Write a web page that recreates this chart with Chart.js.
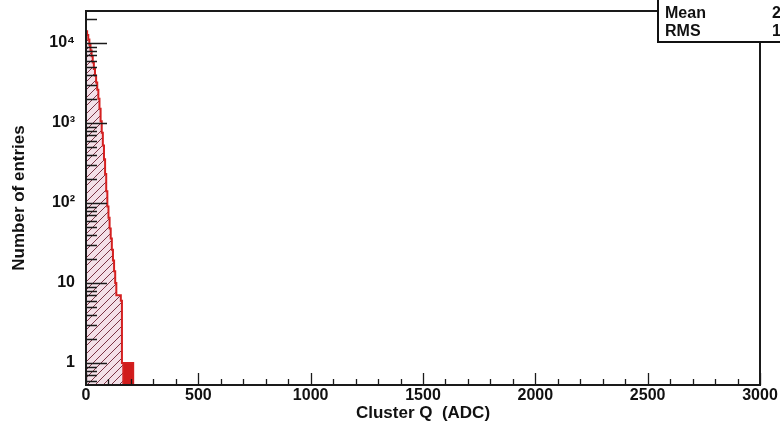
<!DOCTYPE html>
<html>
<head>
<meta charset="utf-8">
<script src="https://cdn.jsdelivr.net/npm/chart.js@4/dist/chart.umd.min.js"></script>
<style>
  html, body { margin: 0; padding: 0; background: #ffffff; }
  #wrap { width: 780px; height: 425px; position: relative; }
</style>
</head>
<body>
<div id="wrap"><canvas id="c" width="780" height="425"></canvas></div>
<script>
// ---- data ----
const binWidth = 5; // ADC
const binStarts = [0, 5, 10, 15, 20, 25, 30, 35, 40, 45, 50, 55, 60, 65, 70, 75, 80, 85, 90, 95,
                   100, 105, 110, 115, 120, 125, 130, 135, 140, 145, 150, 155, 160, 165, 170, 175,
                   180, 185, 190, 195, 200, 205];
const counts = [13500, 14000, 12500, 11000, 9500, 8000, 6800, 5700, 4700, 3900, 3200, 2600, 2000, 1500,
                1050, 750, 520, 350, 230, 140, 90, 65, 48, 36, 26, 19, 14, 10, 7, 7, 7, 7, 6,
                1, 1, 1, 1, 1, 1, 1, 1, 1];
const tailFrom = 165; // ADC where the sparse (single-entry) tail starts
const xRange = [0, 3000];
const yRange = [0.53, 25000];
const xTickValues = [0, 500, 1000, 1500, 2000, 2500, 3000];
const yTickValues = [1, 10, 100, 1000, 10000];
const yTickLabels = ['1', '10', '10\u00B2', '10\u00B3', '10\u2074'];
const statsLabels = ['Entries', 'Mean', 'RMS'];
const statsValues = ['1.5e+05', '25.47', '19.82'];
const xTitle = 'Cluster Q  (ADC)';
const yTitle = 'Number of entries';

const FONT = '"Liberation Sans", Arial, Helvetica, sans-serif';

function histPoints(starts, vals, w, floor) {
  const pts = [{x: starts[0], y: floor}];
  for (let i = 0; i < starts.length; i++) pts.push({x: starts[i], y: vals[i]});
  const end = starts[starts.length - 1] + w;
  pts.push({x: end, y: vals[vals.length - 1]});
  pts.push({x: end, y: floor});
  return pts;
}

const tailIdx = binStarts.findIndex(v => v >= tailFrom);
const mainPts = histPoints(binStarts, counts, binWidth, yRange[0]);
const tailPts = histPoints(binStarts.slice(tailIdx), counts.slice(tailIdx), binWidth, yRange[0]);

// hatch pattern
function makeHatch() {
  const s = 8;
  const cv = document.createElement('canvas');
  cv.width = s; cv.height = s;
  const g = cv.getContext('2d');
  g.fillStyle = '#f3e0e8';
  g.fillRect(0, 0, s, s);
  g.strokeStyle = '#7a3444';
  g.lineWidth = 1;
  g.beginPath();
  g.moveTo(0, s); g.lineTo(s, 0);
  g.moveTo(-s / 2, s / 2); g.lineTo(s / 2, -s / 2);
  g.moveTo(s / 2, s * 1.5); g.lineTo(s * 1.5, s / 2);
  g.stroke();
  return g.createPattern(cv, 'repeat');
}
const hatch = makeHatch();

const framePlugin = {
  id: 'rootFrame',
  beforeDraw(chart) {
    const ctx = chart.ctx;
    ctx.save();
    ctx.fillStyle = '#ffffff';
    ctx.fillRect(0, 0, chart.width, chart.height);
    ctx.restore();
  },
  afterDatasetsDraw(chart) {
    const {ctx, chartArea: a, scales: {x, y}} = chart;
    ctx.save();
    ctx.strokeStyle = '#1a1a1a';
    // y ticks (major + log minor), pointing inward
    ctx.lineWidth = 1.3;
    ctx.beginPath();
    for (let d = -1; d <= 5; d++) {
      for (let k = 1; k <= 9; k++) {
        const v = k * Math.pow(10, d);
        if (v < y.min || v > y.max) continue;
        const py = Math.round(y.getPixelForValue(v)) + 0.5;
        const len = k === 1 ? 21 : 11;
        ctx.moveTo(a.left, py); ctx.lineTo(a.left + len, py);
      }
    }
    // x ticks: major every 500, minor every 100
    for (let v = xRange[0]; v <= xRange[1]; v += 100) {
      const px = Math.round(x.getPixelForValue(v)) + 0.5;
      const len = v % 500 === 0 ? 12 : 6;
      ctx.moveTo(px, a.bottom); ctx.lineTo(px, a.bottom - len);
    }
    ctx.stroke();
    // frame
    ctx.lineWidth = 2;
    ctx.strokeRect(a.left, a.top, a.right - a.left, a.bottom - a.top);
    // stats box
    const bx = 658, by = -12, bw = 200, bh = 54;
    ctx.fillStyle = '#ffffff';
    ctx.fillRect(bx, by, bw, bh);
    ctx.lineWidth = 2;
    ctx.strokeStyle = '#111111';
    ctx.strokeRect(bx, by, bw, bh);
    ctx.fillStyle = '#111111';
    ctx.font = 'bold 16px ' + FONT;
    ctx.textBaseline = 'middle';
    const rowsY = [-4, 14, 32];
    for (let i = 0; i < statsLabels.length; i++) {
      ctx.textAlign = 'left';
      ctx.fillText(statsLabels[i], 665, rowsY[i]);
      ctx.fillText(statsValues[i], 772, rowsY[i]);
    }
    ctx.restore();
  }
};

new Chart(document.getElementById('c'), {
  type: 'line',
  data: {
    datasets: [
      {
        label: 'Cluster Q',
        data: mainPts,
        stepped: 'after',
        borderColor: '#d42020',
        borderWidth: 2,
        backgroundColor: hatch,
        fill: 'start',
        pointRadius: 0,
        tension: 0,
        order: 2
      },
      {
        label: 'tail',
        data: tailPts,
        stepped: 'after',
        borderColor: '#d42020',
        borderWidth: 1.5,
        backgroundColor: '#d01c1c',
        fill: 'start',
        pointRadius: 0,
        tension: 0,
        order: 1
      }
    ]
  },
  options: {
    responsive: false,
    animation: false,
    events: [],
    layout: { padding: { top: 11, right: 20, left: 0, bottom: 0 } },
    plugins: { legend: { display: false }, tooltip: { enabled: false } },
    scales: {
      x: {
        type: 'linear',
        min: xRange[0], max: xRange[1],
        afterBuildTicks: s => { s.ticks = xTickValues.map(v => ({value: v})); },
        afterFit: s => { s.height = 40; s.paddingLeft = 0; s.paddingRight = 0; },
        ticks: {
          color: '#111', padding: 1,
          font: { family: FONT, size: 16, weight: 'bold' },
          maxRotation: 0, autoSkip: false,
          callback: v => String(v)
        },
        grid: { display: false, drawTicks: false },
        border: { display: false },
        title: {
          display: true, text: xTitle, color: '#111',
          font: { family: FONT, size: 17, weight: 'bold' },
          padding: { top: 0, bottom: 1 }
        }
      },
      y: {
        type: 'logarithmic',
        min: yRange[0], max: yRange[1],
        afterBuildTicks: s => { s.ticks = yTickValues.map(v => ({value: v})); },
        afterFit: s => { s.width = 86; s.paddingTop = 0; s.paddingBottom = 0; },
        ticks: {
          color: '#111', padding: 11,
          font: { family: FONT, size: 16, weight: 'bold' },
          autoSkip: false,
          callback: (v) => {
            const i = yTickValues.indexOf(v);
            return i >= 0 ? yTickLabels[i] : '';
          }
        },
        grid: { display: false, drawTicks: false },
        border: { display: false },
        title: {
          display: true, text: yTitle, color: '#111',
          font: { family: FONT, size: 17, weight: 'bold' },
          padding: { top: 9, bottom: 0 }
        }
      }
    }
  },
  plugins: [framePlugin]
});
</script>
</body>
</html>
